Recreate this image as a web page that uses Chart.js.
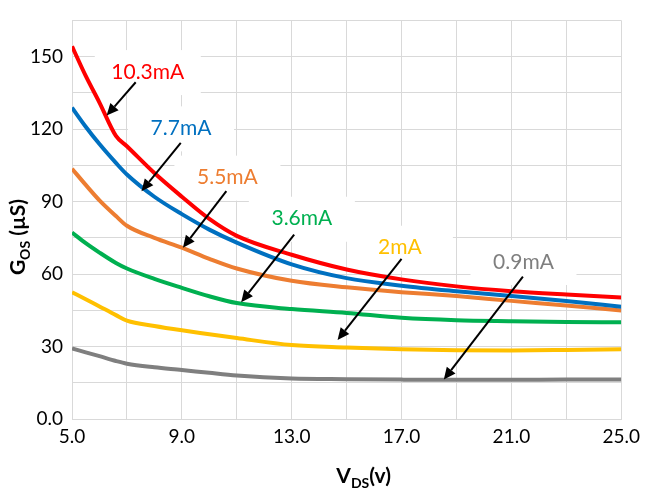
<!DOCTYPE html>
<html lang="en">
<head>
  <meta charset="UTF-8">
  <title>Gos vs Vds</title>
  <script src="https://cdn.jsdelivr.net/npm/chart.js"></script>
  <style>
    body { margin: 0; background: #fff; }
    #wrap { width: 646px; height: 489px; }
  </style>
</head>
<body>
  <div id="wrap"><canvas id="myChart" width="646" height="489"></canvas></div>

  <script>
    // VDS (V) sample points, shared by all curves
    const vds = [5, 5.5, 6, 6.6, 7, 8, 9, 10, 11, 13, 15, 17, 19, 21, 23, 25];

    // GOS (uS) per drain current
    const g10_3 = [154.3, 142.0, 131.0, 117.2, 112.9, 101.8, 92.0, 82.8, 75.8, 68.0, 61.9, 57.8, 54.9, 52.9, 51.5, 50.3];
    const g7_7  = [128.9, 121.0, 113.8, 106.0, 101.2, 92.0, 84.8, 78.4, 73.0, 64.0, 58.3, 55.2, 52.9, 50.9, 48.8, 46.5];
    const g5_5  = [103.6, 96.9, 90.5, 84.0, 80.0, 75.0, 70.9, 66.3, 62.3, 57.2, 54.5, 52.5, 50.9, 48.9, 47.0, 44.9];
    const g3_6  = [77.2, 72.8, 68.9, 64.6, 62.3, 58.0, 54.3, 50.8, 48.0, 45.5, 43.9, 41.9, 40.9, 40.5, 40.2, 40.0];
    const g2    = [52.5, 49.6, 46.6, 43.0, 40.7, 38.5, 36.7, 35.1, 33.5, 30.6, 29.6, 28.9, 28.5, 28.4, 28.6, 28.9];
    const g0_9  = [29.2, 27.6, 26.0, 24.0, 22.9, 21.4, 20.3, 19.1, 18.0, 16.8, 16.5, 16.3, 16.2, 16.2, 16.3, 16.3];

    const seriesNames = ['10.3mA', '7.7mA', '5.5mA', '3.6mA', '2mA', '0.9mA'];
    const seriesData = [g10_3, g7_7, g5_5, g3_6, g2, g0_9];
    const seriesColors = ['#FF0000', '#0070C0', '#ED7D31', '#00B050', '#FFC000', '#7F7F7F'];

    // label anchors and arrows, in data units (VDS, GOS)
    const labelPos   = [[7.76, 143.6], [8.97, 120.3], [10.66, 99.9], [13.37, 82.9], [16.94, 70.9], [21.44, 65.0]];
    const arrowStart = [[7.32, 139.4], [8.96, 114.3], [10.62, 94.3], [13.09, 76.3], [17.0, 66.3], [21.42, 58.9]];
    const arrowEnd   = [[6.26, 125.6], [7.53, 94.3], [9.04, 70.9], [11.16, 48.3], [14.67, 32.7], [18.54, 16.3]];

    const FONT = 'Lato, "Open Sans", sans-serif';

    const datasets = seriesData.map((arr, i) => ({
      label: seriesNames[i],
      data: vds.map((v, j) => ({ x: v, y: arr[j] })),
      borderColor: seriesColors[i],
      borderWidth: 4,
      pointRadius: 0,
      cubicInterpolationMode: 'monotone',
      fill: false
    }));

    function drawArrow(ctx, x1, y1, x2, y2) {
      const ang = Math.atan2(y2 - y1, x2 - x1);
      const head = 12, half = 5.5;
      const bx = x2 - head * Math.cos(ang), by = y2 - head * Math.sin(ang);
      ctx.strokeStyle = '#000';
      ctx.lineWidth = 2;
      ctx.beginPath();
      ctx.moveTo(x1, y1);
      ctx.lineTo(bx, by);
      ctx.stroke();
      ctx.fillStyle = '#000';
      ctx.beginPath();
      ctx.moveTo(x2, y2);
      ctx.lineTo(bx + half * Math.sin(ang), by - half * Math.cos(ang));
      ctx.lineTo(bx - half * Math.sin(ang), by + half * Math.cos(ang));
      ctx.closePath();
      ctx.fill();
    }

    // draw a title made of [text, isSub] parts centred on 0
    function drawParts(ctx, parts) {
      let total = 0;
      const widths = parts.map(p => {
        ctx.font = 'bold ' + (p[1] ? 14 : 21) + 'px ' + FONT;
        const w = ctx.measureText(p[0]).width;
        total += w;
        return w;
      });
      let x = -total / 2;
      parts.forEach((p, i) => {
        ctx.font = 'bold ' + (p[1] ? 14 : 21) + 'px ' + FONT;
        ctx.fillText(p[0], x, p[1] ? 5 : 0);
        x += widths[i];
      });
    }

    const labelsPlugin = {
      id: 'labels',
      beforeDatasetsDraw(chart) {
        const { ctx, scales: { x, y } } = chart;
        ctx.save();
        ctx.fillStyle = '#fff';
        labelPos.forEach(p => {
          const cx = x.getPixelForValue(p[0]), cy = y.getPixelForValue(p[1]);
          ctx.fillRect(cx - 53, cy - 22, 106, 45);
        });
        ctx.restore();
      },
      afterDatasetsDraw(chart) {
        const { ctx, scales: { x, y } } = chart;
        ctx.save();
        ctx.font = '21px ' + FONT;
        ctx.textAlign = 'center';
        ctx.textBaseline = 'middle';
        labelPos.forEach((p, i) => {
          ctx.fillStyle = seriesColors[i];
          ctx.fillText(seriesNames[i], x.getPixelForValue(p[0]), y.getPixelForValue(p[1]));
          drawArrow(ctx,
            x.getPixelForValue(arrowStart[i][0]), y.getPixelForValue(arrowStart[i][1]),
            x.getPixelForValue(arrowEnd[i][0]), y.getPixelForValue(arrowEnd[i][1]));
        });
        ctx.restore();
      },
      afterDraw(chart) {
        const { ctx, chartArea } = chart;
        ctx.save();
        ctx.fillStyle = '#000';
        ctx.textAlign = 'left';
        ctx.textBaseline = 'alphabetic';
        // y axis title, rotated
        ctx.save();
        ctx.translate(25, 237);
        ctx.rotate(-Math.PI / 2);
        drawParts(ctx, [['G', false], ['OS', true], [' (\u00B5S)', false]]);
        ctx.restore();
        // x axis title
        ctx.save();
        ctx.translate((chartArea.left + chartArea.right) / 2 + 17, 483);
        drawParts(ctx, [['V', false], ['DS', true], ['(v)', false]]);
        ctx.restore();
        ctx.restore();
      }
    };

    const ctx = document.getElementById('myChart').getContext('2d');
    new Chart(ctx, {
      type: 'line',
      data: { datasets: datasets },
      options: {
        responsive: false,
        animation: false,
        layout: { padding: { left: 0, right: 23, top: 7, bottom: 0 } },
        plugins: {
          legend: { display: false },
          tooltip: { enabled: false }
        },
        scales: {
          x: {
            type: 'linear',
            min: 5,
            max: 25,
            afterFit: s => { s.height = 70; },
            grid: { color: '#d9d9d9', lineWidth: 1, drawTicks: false },
            border: { color: '#d9d9d9' },
            ticks: {
              stepSize: 2,
              autoSkip: false,
              maxRotation: 0,
              padding: 6,
              color: '#000',
              font: { family: FONT, size: 19 },
              callback: v => ((v - 5) % 4 === 0 ? v.toFixed(1) : '')
            }
          },
          y: {
            min: 0,
            max: 165,
            afterFit: s => { s.width = 72; },
            grid: { color: '#d9d9d9', lineWidth: 1, drawTicks: false },
            border: { color: '#d9d9d9' },
            ticks: {
              stepSize: 15,
              autoSkip: false,
              padding: 9,
              color: '#000',
              font: { family: FONT, size: 19 },
              callback: v => (v % 30 === 0 ? (v === 0 ? '0.0' : String(v)) : '')
            }
          }
        }
      },
      plugins: [labelsPlugin]
    });
  </script>
</body>
</html>
